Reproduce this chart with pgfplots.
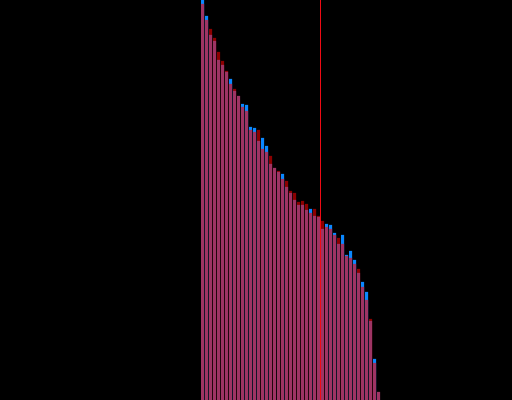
\documentclass[border=0pt]{standalone}
\usepackage{pgfplots}
\pgfplotsset{compat=1.18}
\definecolor{mauve}{RGB}{158,52,100}
\definecolor{upblue}{RGB}{10,136,255}
\definecolor{downred}{RGB}{140,0,0}
\definecolor{marker}{RGB}{240,10,20}
\begin{document}
\begin{tikzpicture}
\begin{axis}[
  scale only axis, width=512bp, height=400bp,
  xmin=-50.625, xmax=77.375, ymin=0, ymax=400,
  axis lines=none, ticks=none,
  axis background/.style={fill=black},
  clip=true,
]
% bars whose top segment is blue (total height)
\addplot[ybar, bar width=0.75, bar shift=0pt, draw=none, fill=upblue] coordinates {
(0,400) (1,384) (7,321) (10,296) (11,295) (12,273) (13,272) (15,262) (16,254)
(20,226) (27,191) (31,176) (32,175) (33,167) (35,165) (36,145) (37,149) (38,140)
(40,118) (41,108) (43,41)
};
% bars whose top segment is dark red (total height)
\addplot[ybar, bar width=0.75, bar shift=0pt, draw=none, fill=downred] coordinates {
(2,371) (3,362) (4,348) (5,339) (6,329) (8,311) (14,270) (17,244) (19,229)
(21,219) (22,209) (23,207) (24,198) (25,199) (26,196) (28,191) (29,184) (30,179)
(34,162) (39,131) (42,81)
};
% common (lower) part
\addplot[ybar, bar width=0.75, bar shift=0pt, draw=none, fill=mauve] coordinates {
(0,396) (1,380) (2,365) (3,359) (4,340) (5,335) (6,328) (7,316) (8,309) (9,304)
(10,293) (11,289) (12,270) (13,268) (14,259) (15,251) (16,248) (17,236) (18,232)
(19,228) (20,221) (21,213) (22,207) (23,200) (24,195) (25,195) (26,190) (27,187)
(28,184) (29,183) (30,171) (31,173) (32,171) (33,165) (34,156) (35,156) (36,144)
(37,142) (38,136) (39,127) (40,113) (41,100) (42,79) (43,37) (44,8)
};
\addplot[marker, line width=1bp] coordinates {(29.5,0) (29.5,400)};
\end{axis}
\end{tikzpicture}
\end{document}
